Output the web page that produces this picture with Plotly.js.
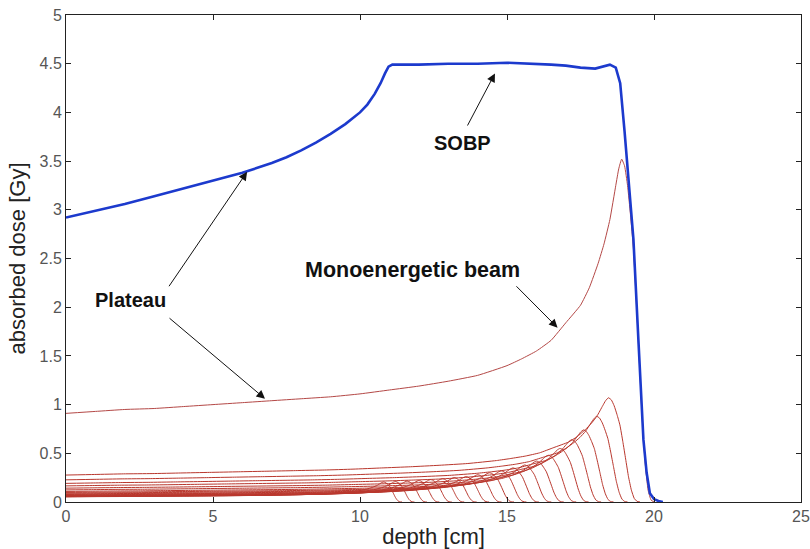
<!DOCTYPE html>
<html>
<head>
<meta charset="utf-8">
<script src="https://cdn.plot.ly/plotly-3.0.1.min.js"></script>
<style>
  html, body { margin: 0; padding: 0; background: #fff; }
  #chart { width: 810px; height: 549px; }
</style>
</head>
<body>
<div id="chart"></div>
<script>
// Depth-dose curve of the single monoenergetic proton beam (depth in cm, dose in Gy)
const monoDepth = [0, 1, 2, 3, 4, 5, 6, 7, 8, 9, 10, 11, 12, 13, 14, 15, 15.5, 16, 16.5, 17, 17.5,
  17.8, 18.1, 18.3, 18.5, 18.7, 18.8, 18.9, 19.0, 19.1, 19.2, 19.3, 19.4, 19.5, 19.6, 19.7, 19.8, 19.9, 20.0];
const monoDose = [0.91, 0.93, 0.95, 0.96, 0.98, 1.0, 1.02, 1.04, 1.06, 1.08, 1.11, 1.15, 1.19, 1.24, 1.3, 1.4, 1.47, 1.55, 1.66, 1.84, 2.02,
  2.2, 2.45, 2.65, 2.9, 3.25, 3.42, 3.52, 3.45, 3.25, 2.95, 2.6, 2.05, 1.45, 0.85, 0.4, 0.12, 0.02, 0.0];

// Spread-out Bragg peak (SOBP)
const sobpDepth = [0, 1, 2, 3, 4, 5, 6, 7, 7.5, 8, 8.5, 9, 9.5, 10, 10.25, 10.5, 10.7, 10.85, 10.97, 11.1, 11.5, 12, 13, 14, 15, 16, 16.5,
  17, 17.5, 18, 18.3, 18.5, 18.7, 18.85, 19.0, 19.15, 19.3, 19.47, 19.64, 19.75, 19.86, 20.0, 20.15, 20.3];
const sobpDose = [2.92, 2.99, 3.06, 3.14, 3.22, 3.3, 3.38, 3.48, 3.54, 3.61, 3.69, 3.78, 3.88, 4.0, 4.08, 4.19, 4.3, 4.4, 4.47, 4.49, 4.49, 4.49, 4.5, 4.5, 4.51, 4.5, 4.49,
  4.48, 4.46, 4.45, 4.47, 4.49, 4.46, 4.3, 3.8, 3.25, 2.7, 1.66, 0.64, 0.3, 0.09, 0.03, 0.01, 0.0];

// Weighted pristine Bragg peaks that build up the SOBP: peak depth [cm] and peak dose [Gy]
const pristinePeakDepth = [10.8, 11.2, 11.6, 12.0, 12.4, 12.8, 13.2, 13.6, 14.0, 14.4,
  14.8, 15.2, 15.6, 16.0, 16.4, 16.8, 17.2, 17.6, 18.05, 18.45];
const pristinePeakDose = [0.205, 0.21, 0.215, 0.22, 0.23, 0.24, 0.25, 0.26, 0.28, 0.3,
  0.32, 0.35, 0.38, 0.42, 0.48, 0.55, 0.64, 0.74, 0.88, 1.07];

const monoPeakDose = Math.max(...monoDose);
const monoPeakDepth = monoDepth[monoDose.indexOf(monoPeakDose)];

const traces = [];
// each pristine beam: the measured Bragg curve shifted in range and scaled in weight
pristinePeakDepth.forEach((r, i) => {
  const sx = r / monoPeakDepth;
  const sy = pristinePeakDose[i] / monoPeakDose;
  traces.push({
    x: monoDepth.map(d => d * sx),
    y: monoDose.map(v => v * sy),
    type: 'scatter', mode: 'lines',
    line: { color: 'rgb(185,55,45)', width: 1, shape: 'spline', smoothing: 0.4 },
    hoverinfo: 'skip'
  });
});

traces.push({
  x: monoDepth, y: monoDose, type: 'scatter', mode: 'lines',
  line: { color: 'rgb(180,72,70)', width: 1, shape: 'spline', smoothing: 0.4 },
  name: 'Monoenergetic beam'
});
traces.push({
  x: sobpDepth, y: sobpDose, type: 'scatter', mode: 'lines',
  line: { color: 'rgb(28,58,205)', width: 2.6 }, name: 'SOBP'
});

function labelFont(size) {
  return { family: 'Liberation Sans, Arial, sans-serif', size: size, color: '#111' };
}
function arrow(x, y, ax, ay) {
  return { x: x, y: y, ax: ax, ay: ay, xref: 'x', yref: 'y', axref: 'x', ayref: 'y',
    text: '', showarrow: true, arrowhead: 2, arrowsize: 1.7, arrowwidth: 1, arrowcolor: '#111' };
}
function label(x, y, t, size) {
  return { x: x, y: y, xref: 'x', yref: 'y', text: '<b>' + t + '</b>', showarrow: false, font: labelFont(size) };
}

const layout = {
  width: 810, height: 549,
  margin: { l: 66, r: 9, t: 15, b: 47 },
  paper_bgcolor: '#fff', plot_bgcolor: '#fff',
  showlegend: false,
  font: { family: 'Liberation Sans, Arial, sans-serif' },
  xaxis: {
    range: [0, 25], dtick: 5, ticks: 'inside', ticklen: 5, tickcolor: '#222',
    showline: true, linecolor: '#222', linewidth: 1, mirror: 'ticks',
    showgrid: false, zeroline: false,
    tickfont: { size: 16, color: '#555' },
    title: { text: 'depth [cm]', font: { size: 22, color: '#222' }, standoff: 5 }
  },
  yaxis: {
    range: [0, 5], dtick: 0.5, ticks: 'inside', ticklen: 5, tickcolor: '#222',
    showline: true, linecolor: '#222', linewidth: 1, mirror: 'ticks',
    showgrid: false, zeroline: false,
    tickfont: { size: 16, color: '#555' },
    title: { text: 'absorbed dose [Gy]', font: { size: 22, color: '#222' }, standoff: 7 }
  },
  annotations: [
    label(13.5, 3.69, 'SOBP', 20),
    arrow(14.59, 4.4, 13.63, 3.85),
    label(2.2, 2.07, 'Plateau', 20),
    arrow(6.16, 3.39, 3.47, 2.2),
    arrow(6.77, 1.06, 3.47, 1.9),
    label(11.78, 2.38, 'Monoenergetic beam', 21.5),
    arrow(16.72, 1.79, 15.27, 2.23)
  ]
};

Plotly.newPlot('chart', traces, layout, { displayModeBar: false, staticPlot: true });
</script>
</body>
</html>
